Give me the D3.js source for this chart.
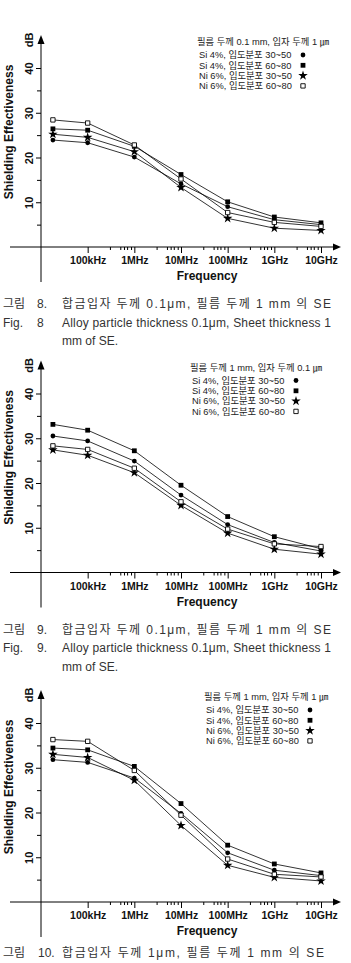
<!DOCTYPE html>
<html>
<head>
<meta charset="utf-8">
<script src="https://cdn.jsdelivr.net/npm/d3@7"></script>
<style>
  body { margin: 0; background: #fff; }
  .tick text { font-family: "Liberation Sans", Arial, sans-serif; font-weight: bold; fill: #111; }
  .lbl { font-family: "Liberation Sans", Arial, sans-serif; font-weight: bold; fill: #111; }
  .leg { font-family: "Liberation Sans", "Noto Sans CJK KR", sans-serif; font-size: 9.3px; fill: #222; }
  .cap { font-family: "Liberation Sans", "Noto Sans CJK KR", sans-serif; font-size: 12px; fill: #333; }
</style>
</head>
<body>
<script>
// frequencies of the measured points (Hz)
var freqHz = [18e3, 1e5, 1e6, 1e7, 1e8, 1e9, 1e10];
var decadeTicks = [1e5, 1e6, 1e7, 1e8, 1e9, 1e10];
var decadeLabels = ["100kHz", "1MHz", "10MHz", "100MHz", "1GHz", "10GHz"];
var minorSteps = [3, 5, 6, 7, 8.5];
var yMajor = [10, 20, 30, 40];
var yMinor = [5, 15, 25, 35];

var seriesLabels = ["Si 4%, 입도분포 30~50", "Si 4%, 입도분포 60~80", "Ni 6%, 입도분포 30~50", "Ni 6%, 입도분포 60~80"];
var seriesShapes = ["circle", "square", "star", "open"];

// Fig 8 : film 0.1 mm, particle 1 um
var fig8Si3050 = [23.9, 23.3, 20.1, 14.1, 9.0, 6.1, 5.0];
var fig8Si6080 = [26.4, 26.1, 22.5, 16.2, 10.1, 6.7, 5.4];
var fig8Ni3050 = [25.2, 24.5, 21.3, 13.3, 6.4, 4.2, 3.7];
var fig8Ni6080 = [28.4, 27.7, 22.8, 15.2, 7.7, 5.5, 4.6];
// Fig 9 : film 1 mm, particle 0.1 um
var fig9Si3050 = [30.5, 29.4, 24.9, 17.3, 10.7, 6.7, 4.8];
var fig9Si6080 = [33.1, 31.8, 27.2, 19.5, 12.5, 8.0, 5.3];
var fig9Ni3050 = [27.4, 26.2, 22.3, 15.0, 8.8, 5.2, 4.1];
var fig9Ni6080 = [28.3, 27.5, 23.3, 15.8, 9.7, 6.4, 5.8];
// Fig 10 : film 1 mm, particle 1 um
var fig10Si3050 = [31.8, 31.2, 27.7, 19.8, 11.0, 7.1, 5.9];
var fig10Si6080 = [34.4, 34.0, 30.3, 22.0, 12.7, 8.5, 6.5];
var fig10Ni3050 = [33.0, 32.3, 27.2, 17.1, 8.2, 5.5, 4.7];
var fig10Ni6080 = [36.3, 35.9, 29.4, 19.4, 9.6, 6.2, 5.6];

var legendTitles = ["필름 두께 0.1 mm,  입자 두께 1 ㎛", "필름 두께 1 mm,  입자 두께 0.1 ㎛", "필름 두께 1 mm,  입자 두께 1 ㎛"];
var capNums = ["8.", "9.", "10."];
var capNumsEn = ["8", "9.", ""];
var capKo = ["합금입자 두께 0.1μm, 필름 두께 1 mm 의 SE", "합금입자 두께 0.1μm, 필름 두께 1 mm 의 SE", "합금입자 두께 1μm, 필름 두께 1 mm 의 SE"];
var capEn = ["Alloy particle thickness 0.1μm, Sheet thickness 1", "Alloy particle thickness 0.1μm, Sheet thickness 1", ""];

var W = 351, H = 963;
var svg = d3.select("body").append("svg")
    .attr("width", W)
    .attr("height", H);

// where each panel sits
var panels = [
  {base: 247, legX: 197, data: [fig8Si3050, fig8Si6080, fig8Ni3050, fig8Ni6080]},
  {base: 572.5, legX: 190, data: [fig9Si3050, fig9Si6080, fig9Ni3050, fig9Ni6080]},
  {base: 902, legX: 204, data: [fig10Si3050, fig10Si6080, fig10Ni3050, fig10Ni6080]}
];

var minorVals = [];
decadeTicks.slice(0, 5).forEach(function(d) {
  minorSteps.forEach(function(m) { minorVals.push(d * m); });
});

function marker(sel, shape) {
  var type = shape == "circle" ? d3.symbolCircle : shape == "star" ? d3.symbolStar : d3.symbolSquare;
  var size = shape == "circle" ? 18 : shape == "star" ? 28 : shape == "open" ? 19 : 23;
  sel.attr("d", d3.symbol().type(type).size(size))
    .attr("fill", shape == "open" ? "#fff" : "#000")
    .attr("stroke", shape == "open" ? "#000" : "none")
    .attr("stroke-width", 0.9);
}

panels.forEach(function(p, pi) {
  var base = p.base;
  var x = d3.scaleLog().domain([1e4, 1e10]).range([41, 321]);
  var y = d3.scaleLinear().domain([0, 40]).range([base, base - 179]);
  var g = svg.append("g");

  // axis lines with arrows
  g.append("line").attr("x1", 10).attr("x2", 334).attr("y1", base).attr("y2", base)
    .attr("stroke", "#000").attr("stroke-width", 1);
  g.append("path").attr("d", "M333," + (base - 3.5) + "L341," + base + "L333," + (base + 3.5) + "Z").attr("fill", "#000");
  g.append("line").attr("x1", 41).attr("x2", 41).attr("y1", base + 35).attr("y2", base - 204)
    .attr("stroke", "#000").attr("stroke-width", 1);
  g.append("path").attr("d", "M37.5," + (base - 203) + "L41," + (base - 212) + "L44.5," + (base - 203) + "Z").attr("fill", "#000");

  // x axis
  var xa = g.append("g").attr("transform", "translate(0," + base + ")")
    .call(d3.axisBottom(x).tickValues(decadeTicks)
      .tickFormat(function(d, i) { return decadeLabels[i]; })
      .tickSize(6).tickPadding(4));
  xa.select(".domain").remove();
  xa.selectAll("text").style("font-size", "10.5px");
  var xm = g.append("g").attr("transform", "translate(0," + base + ")")
    .call(d3.axisBottom(x).tickValues(minorVals).tickFormat("").tickSize(3));
  xm.select(".domain").remove();

  // y axis
  var ya = g.append("g").attr("transform", "translate(41,0)")
    .call(d3.axisLeft(y).tickValues(yMajor).tickSize(5));
  ya.select(".domain").remove();
  ya.selectAll("text")
    .attr("transform", "rotate(-90)")
    .attr("x", 0).attr("y", -8).attr("dy", 0)
    .attr("text-anchor", "middle")
    .style("font-size", "11px");
  var ym = g.append("g").attr("transform", "translate(41,0)")
    .call(d3.axisLeft(y).tickValues(yMinor).tickFormat("").tickSize(4));
  ym.select(".domain").remove();

  g.append("text").attr("class", "lbl")
    .attr("transform", "translate(33," + (base - 207) + ") rotate(-90)")
    .attr("text-anchor", "middle").style("font-size", "11px").text("dB");
  g.append("text").attr("class", "lbl")
    .attr("transform", "translate(13," + (base - 115) + ") rotate(-90)")
    .attr("text-anchor", "middle").style("font-size", "12px").text("Shielding Effectiveness");
  g.append("text").attr("class", "lbl")
    .attr("x", 207).attr("y", base + 33)
    .attr("text-anchor", "middle").style("font-size", "12px").text("Frequency");

  // series
  var line = d3.line()
    .x(function(d, i) { return x(freqHz[i]); })
    .y(function(d) { return y(d); });
  p.data.forEach(function(vals, si) {
    g.append("path").datum(vals)
      .attr("d", line)
      .attr("fill", "none")
      .attr("stroke", "#000")
      .attr("stroke-width", 0.8);
  });
  p.data.forEach(function(vals, si) {
    g.selectAll(".m" + si).data(vals).enter().append("path")
      .attr("class", "m" + si)
      .attr("transform", function(d, i) { return "translate(" + x(freqHz[i]) + "," + y(d) + ")"; })
      .call(marker, seriesShapes[si]);
  });

  // legend
  g.append("text").attr("class", "leg")
    .attr("x", p.legX).attr("y", base - 202)
    .text(legendTitles[pi]);
  seriesLabels.forEach(function(s, si) {
    var ly = base - 192 + si * 10.3;
    g.append("text").attr("class", "leg")
      .attr("x", p.legX + 2).attr("y", ly + 3.2)
      .text(s);
    g.append("path")
      .attr("transform", "translate(" + (p.legX + 106) + "," + ly + ")")
      .call(marker, seriesShapes[si]);
  });

  // caption
  var cy = Math.min(base + 61, 957);
  g.append("text").attr("class", "cap").attr("x", 3).attr("y", cy).text("그림");
  g.append("text").attr("class", "cap").attr("x", pi == 2 ? 38 : 37).attr("y", cy).text(capNums[pi]);
  g.append("text").attr("class", "cap").attr("x", 62).attr("y", cy)
    .attr("textLength", pi == 2 ? 262 : 269).attr("lengthAdjust", "spacing").text(capKo[pi]);
  if (capEn[pi]) {
    g.append("text").attr("class", "cap").attr("x", 3).attr("y", cy + 18.5).text("Fig.");
    g.append("text").attr("class", "cap").attr("x", 37).attr("y", cy + 18.5).text(capNumsEn[pi]);
    g.append("text").attr("class", "cap").attr("x", 62).attr("y", cy + 18.5)
      .attr("textLength", 269).attr("lengthAdjust", "spacing").text(capEn[pi]);
    g.append("text").attr("class", "cap").attr("x", 62).attr("y", cy + 37).text("mm of SE.");
  }
});
</script>
</body>
</html>
